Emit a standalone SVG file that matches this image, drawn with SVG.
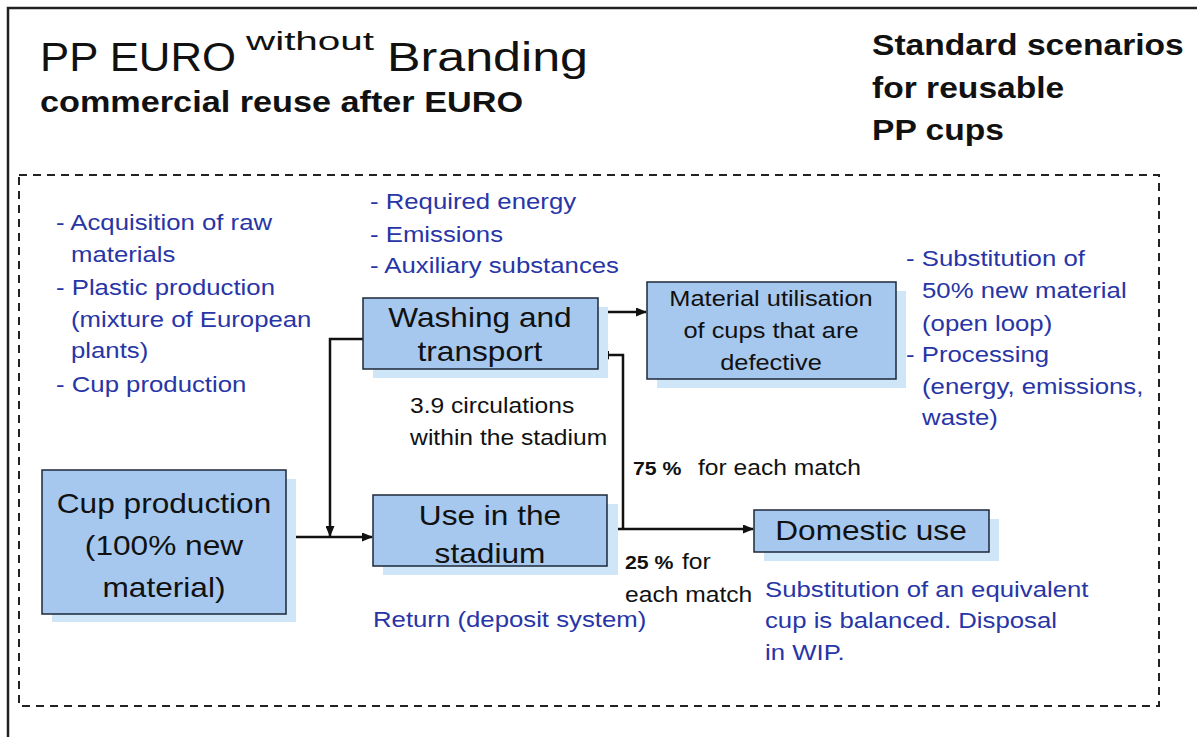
<svg xmlns="http://www.w3.org/2000/svg" width="1197" height="737" viewBox="0 0 1197 737">
  <style>
    text { font-family: "Liberation Sans", Arial, Helvetica, sans-serif; }
    .sx { transform-box: fill-box; transform-origin: left center; transform: scaleX(1.12); }
    .cx { transform-box: fill-box; transform-origin: center center; transform: scaleX(1.13); }
    .blue { fill: #2835a6; font-size: 23px; }
    .note { fill: #111; font-size: 22px; }
    .pct { fill: #111; font-size: 19px; font-weight: bold; }
    .box { fill: #a6c8ef; stroke: #1c2838; stroke-width: 1.5; }
    .shadow { fill: #cfe6f8; }
    .label { fill: #111; font-size: 28px; text-anchor: middle; }
    .label-s { fill: #111; font-size: 22.5px; text-anchor: middle; }
    .head { fill: #111; font-weight: bold; font-size: 30px; }
    .wire { fill: none; stroke: #111; stroke-width: 2.5; }
  </style>
  <defs>
    <marker id="arrow" markerUnits="userSpaceOnUse" markerWidth="11" markerHeight="9" refX="10" refY="4.5" orient="auto">
      <path d="M0,0 L11,4.5 L0,9 z" fill="#111"/>
    </marker>
  </defs>

  <rect width="1197" height="737" fill="#ffffff"/>

  <!-- page frame -->
  <g id="frame">
    <path d="M8,737 V8 H1197" fill="none" stroke="#222" stroke-width="2.5"/>
    <rect x="19" y="175" width="1140" height="531" fill="none" stroke="#222" stroke-width="2" stroke-dasharray="8 6"/>
  </g>

  <!-- headings -->
  <g id="title">
    <text x="40" y="71" font-size="41" fill="#111" textLength="196" lengthAdjust="spacingAndGlyphs">PP EURO</text>
    <text x="246" y="50" font-size="25" fill="#111" textLength="128" lengthAdjust="spacingAndGlyphs">without</text>
    <text x="387" y="71" font-size="41" fill="#111" textLength="201" lengthAdjust="spacingAndGlyphs">Branding</text>
    <text x="40" y="112" font-size="29" font-weight="bold" fill="#111" textLength="483" lengthAdjust="spacingAndGlyphs">commercial reuse after EURO</text>
  </g>
  <g id="scenario-heading">
    <text class="head sx" x="872" y="55">Standard scenarios</text>
    <text class="head sx" x="872" y="98">for reusable</text>
    <text class="head sx" x="872" y="140">PP cups</text>
  </g>

  <!-- connectors -->
  <g id="connectors">
    <path class="wire" d="M286,537 H372" marker-end="url(#arrow)"/>
    <path class="wire" d="M363,339 H330 V536" marker-end="url(#arrow)"/>
    <path class="wire" d="M607,529 H753" marker-end="url(#arrow)"/>
    <path class="wire" d="M623,529 V355 H599" marker-end="url(#arrow)"/>
    <path class="wire" d="M598,312 H646" marker-end="url(#arrow)"/>
  </g>

  <!-- process boxes -->
  <g id="cup-production">
    <rect class="shadow" x="52" y="479" width="244" height="143"/>
    <rect class="box" x="42" y="470" width="244" height="144"/>
    <text class="label cx" x="164" y="513">Cup production</text>
    <text class="label cx" x="164" y="555">(100% new</text>
    <text class="label cx" x="164" y="597">material)</text>
  </g>

  <g id="washing-transport">
    <rect class="shadow" x="373" y="307" width="235" height="71"/>
    <rect class="box" x="363" y="298" width="235" height="71"/>
    <text class="label cx" x="480" y="327" font-size="27">Washing and</text>
    <text class="label cx" x="480" y="361" font-size="27">transport</text>
  </g>

  <g id="material-utilisation">
    <rect class="shadow" x="657" y="291" width="249" height="97"/>
    <rect class="box" x="647" y="282" width="249" height="97"/>
    <text class="label-s cx" x="771" y="306">Material utilisation</text>
    <text class="label-s cx" x="771" y="338">of cups that are</text>
    <text class="label-s cx" x="771" y="370">defective</text>
  </g>

  <g id="use-in-stadium">
    <rect class="shadow" x="383" y="504" width="235" height="71"/>
    <rect class="box" x="373" y="495" width="234" height="71"/>
    <text class="label cx" x="490" y="525">Use in the</text>
    <text class="label cx" x="490" y="563">stadium</text>
  </g>

  <g id="domestic-use">
    <rect class="shadow" x="764" y="519" width="235" height="42"/>
    <rect class="box" x="754" y="510" width="235" height="42"/>
    <text class="label cx" x="871" y="540">Domestic use</text>
  </g>

  <!-- inventory notes -->
  <g id="production-notes">
    <text class="blue sx" x="56" y="230">- Acquisition of raw</text>
    <text class="blue sx" x="71" y="262">materials</text>
    <text class="blue sx" x="56" y="295">- Plastic production</text>
    <text class="blue sx" x="71" y="327">(mixture of European</text>
    <text class="blue sx" x="71" y="358">plants)</text>
    <text class="blue sx" x="56" y="392">- Cup production</text>
  </g>

  <g id="washing-notes">
    <text class="blue sx" x="370" y="209">- Required energy</text>
    <text class="blue sx" x="370" y="242">- Emissions</text>
    <text class="blue sx" x="370" y="273">- Auxiliary substances</text>
  </g>

  <g id="recycling-notes">
    <text class="blue sx" x="906" y="266">- Substitution of</text>
    <text class="blue sx" x="922" y="298">50% new material</text>
    <text class="blue sx" x="922" y="331">(open loop)</text>
    <text class="blue sx" x="906" y="362">- Processing</text>
    <text class="blue sx" x="922" y="394">(energy, emissions,</text>
    <text class="blue sx" x="922" y="425">waste)</text>
  </g>

  <g id="flow-notes">
    <text class="note sx" x="410" y="413">3.9 circulations</text>
    <text class="note sx" x="410" y="445">within the stadium</text>
    <text class="pct sx" x="633" y="475">75 %</text>
    <text class="note sx" x="698" y="475">for each match</text>
    <text class="pct sx" x="625" y="569">25 %</text>
    <text class="note sx" x="682" y="569">for</text>
    <text class="note sx" x="625" y="602">each match</text>
  </g>

  <g id="use-notes">
    <text class="blue sx" x="373" y="627">Return (deposit system)</text>
    <text class="blue sx" x="765" y="597">Substitution of an equivalent</text>
    <text class="blue sx" x="765" y="628">cup is balanced. Disposal</text>
    <text class="blue sx" x="765" y="660">in WIP.</text>
  </g>
</svg>
